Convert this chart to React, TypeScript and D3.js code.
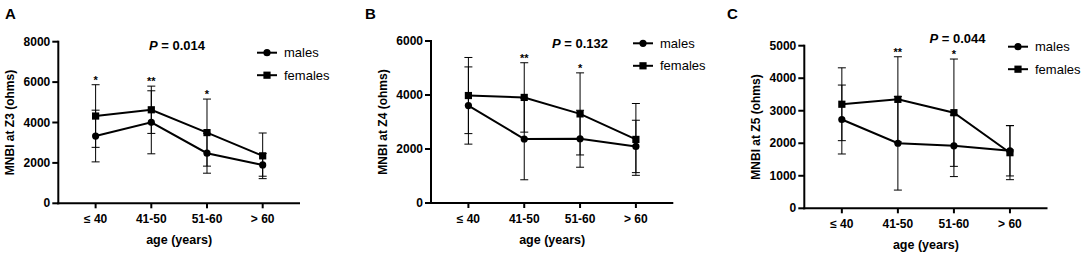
import React from "react";
import * as d3 from "d3";

const categories = ["≤ 40", "41-50", "51-60", "> 60"];

const malesA = [3330, 4010, 2480, 1900];
const malesSdA = [1280, 1560, 990, 560];
const femalesA = [4320, 4630, 3500, 2350];
const femalesSdA = [1550, 1170, 1660, 1130];
const starsA = ["*", "**", "*", ""];
const ticksA = [0, 2000, 4000, 6000, 8000];

const malesB = [3610, 2370, 2380, 2095];
const malesSdB = [1430, 1510, 1055, 970];
const femalesB = [3980, 3910, 3300, 2355];
const femalesSdB = [1410, 1285, 1520, 1330];
const starsB = ["", "**", "*", ""];
const ticksB = [0, 2000, 4000, 6000];

const malesC = [2730, 2000, 1920, 1770];
const malesSdC = [1060, 1440, 945, 775];
const femalesC = [3200, 3350, 2940, 1710];
const femalesSdC = [1120, 1310, 1650, 830];
const starsC = ["", "**", "*", ""];
const ticksC = [0, 1000, 2000, 3000, 4000, 5000];

const FONT = "'Liberation Sans', Arial, Helvetica, sans-serif";

type PanelProps = {
  letter: string;
  letterX: number;
  x0: number;
  x1: number;
  yTop: number;
  yBottom: number;
  ticks: number[];
  yTitle: string;
  pText: string;
  pX: number;
  pY: number;
  legX: number;
  legY: number;
  males: number[];
  malesSd: number[];
  females: number[];
  femalesSd: number[];
  stars: string[];
};

function Panel(p: PanelProps) {
  const yMax = p.ticks[p.ticks.length - 1];
  const x = d3.scalePoint<string>().domain(categories).range([p.x0, p.x1]).padding(0.67);
  const y = d3.scaleLinear().domain([0, yMax]).range([p.yBottom, p.yTop]);
  const line = d3
    .line<number>()
    .x((_, i) => x(categories[i]) as number)
    .y((v) => y(v));
  const capW = 4;
  const series = [
    { vals: p.females, sd: p.femalesSd, shape: "square" },
    { vals: p.males, sd: p.malesSd, shape: "circle" },
  ];
  const yMid = (p.yTop + p.yBottom) / 2;
  return (
    <g fontFamily={FONT}>
      <text x={p.letterX} y={19} fontSize={15} fontWeight="bold">
        {p.letter}
      </text>
      {/* error bars */}
      {series.map((s, si) =>
        s.vals.map((v, i) => {
          const cx = x(categories[i]) as number;
          const hi = y(v + s.sd[i]);
          const lo = y(Math.max(0, v - s.sd[i]));
          return (
            <g key={`e${si}${i}`} stroke="#000" strokeWidth={1}>
              <line x1={cx} x2={cx} y1={hi} y2={lo} />
              <line x1={cx - capW} x2={cx + capW} y1={hi} y2={hi} />
              <line x1={cx - capW} x2={cx + capW} y1={lo} y2={lo} />
            </g>
          );
        })
      )}
      {/* lines */}
      {series.map((s, si) => (
        <path key={`l${si}`} d={line(s.vals) || ""} fill="none" stroke="#000" strokeWidth={2} />
      ))}
      {/* markers */}
      {series.map((s, si) =>
        s.vals.map((v, i) => {
          const cx = x(categories[i]) as number;
          const cy = y(v);
          return s.shape === "circle" ? (
            <circle key={`m${si}${i}`} cx={cx} cy={cy} r={3.6} fill="#000" />
          ) : (
            <rect key={`m${si}${i}`} x={cx - 3.6} y={cy - 3.6} width={7.2} height={7.2} fill="#000" />
          );
        })
      )}
      {/* stars */}
      {p.stars.map((st, i) => {
        if (!st) return null;
        const top = Math.min(y(p.males[i] + p.malesSd[i]), y(p.females[i] + p.femalesSd[i]));
        return (
          <text
            key={`s${i}`}
            x={x(categories[i]) as number}
            y={top - 1}
            textAnchor="middle"
            fontSize={11}
            fontWeight="bold"
          >
            {st}
          </text>
        );
      })}
      {/* y axis */}
      <line x1={p.x0} x2={p.x0} y1={p.yTop - 1} y2={p.yBottom + 1} stroke="#000" strokeWidth={2} />
      {p.ticks.map((t) => (
        <g key={`yt${t}`}>
          <line x1={p.x0 - 6} x2={p.x0} y1={y(t)} y2={y(t)} stroke="#000" strokeWidth={2} />
          <text
            x={p.x0 - 8}
            y={y(t)}
            textAnchor="end"
            dominantBaseline="central"
            fontSize={12}
            fontWeight="bold"
          >
            {t}
          </text>
        </g>
      ))}
      {/* x axis */}
      <line x1={p.x0 - 1} x2={p.x1} y1={p.yBottom} y2={p.yBottom} stroke="#000" strokeWidth={2} />
      {categories.map((c) => (
        <g key={`xt${c}`}>
          <line
            x1={x(c) as number}
            x2={x(c) as number}
            y1={p.yBottom}
            y2={p.yBottom + 5}
            stroke="#000"
            strokeWidth={2}
          />
          <text
            x={x(c) as number}
            y={p.yBottom + 15.5}
            textAnchor="middle"
            dominantBaseline="central"
            fontSize={12}
            fontWeight="bold"
          >
            {c}
          </text>
        </g>
      ))}
      <text
        x={(p.x0 + p.x1) / 2}
        y={p.yBottom + 36.5}
        textAnchor="middle"
        dominantBaseline="central"
        fontSize={12.5}
        fontWeight="bold"
      >
        age (years)
      </text>
      <text
        transform={`translate(${p.x0 - 48},${yMid}) rotate(-90)`}
        textAnchor="middle"
        dominantBaseline="central"
        fontSize={12}
        fontWeight="bold"
      >
        {p.yTitle}
      </text>
      {/* P value */}
      <text x={p.pX} y={p.pY} textAnchor="middle" dominantBaseline="central" fontSize={13} fontWeight="bold">
        <tspan fontStyle="italic">P</tspan>
        {" = " + p.pText}
      </text>
      {/* legend */}
      {[
        { label: "males", shape: "circle" },
        { label: "females", shape: "square" },
      ].map((l, i) => {
        const ly = p.legY + i * 22.5;
        const cx = p.legX + 10;
        return (
          <g key={`lg${i}`}>
            <line x1={p.legX} x2={p.legX + 20} y1={ly} y2={ly} stroke="#000" strokeWidth={2} />
            {l.shape === "circle" ? (
              <circle cx={cx} cy={ly} r={3.6} fill="#000" />
            ) : (
              <rect x={cx - 3.6} y={ly - 3.6} width={7.2} height={7.2} fill="#000" />
            )}
            <text x={p.legX + 27} y={ly} dominantBaseline="central" fontSize={13}>
              {l.label}
            </text>
          </g>
        );
      })}
    </g>
  );
}

export default function App() {
  return (
    <svg
      width={1084}
      height={254}
      style={{ position: "absolute", left: 0, top: 0, background: "#fff" }}
    >
      <rect width={1084} height={254} fill="#fff" />
      <Panel
        letter="A"
        letterX={5}
        x0={58.3}
        x1={300}
        yTop={41.7}
        yBottom={203.3}
        ticks={ticksA}
        yTitle="MNBI at Z3 (ohms)"
        pText="0.014"
        pX={177}
        pY={45}
        legX={257}
        legY={52.7}
        males={malesA}
        malesSd={malesSdA}
        females={femalesA}
        femalesSd={femalesSdA}
        stars={starsA}
      />
      <Panel
        letter="B"
        letterX={365}
        x0={431}
        x1={673.3}
        yTop={41}
        yBottom={203}
        ticks={ticksB}
        yTitle="MNBI at Z4 (ohms)"
        pText="0.132"
        pX={580}
        pY={43.3}
        legX={633}
        legY={43.3}
        males={malesB}
        malesSd={malesSdB}
        females={femalesB}
        femalesSd={femalesSdB}
        stars={starsB}
      />
      <Panel
        letter="C"
        letterX={727}
        x0={804.3}
        x1={1047.5}
        yTop={45.7}
        yBottom={208.3}
        ticks={ticksC}
        yTitle="MNBI at Z5 (ohms)"
        pText="0.044"
        pX={957.5}
        pY={38.3}
        legX={1008}
        legY={46.7}
        males={malesC}
        malesSd={malesSdC}
        females={femalesC}
        femalesSd={femalesSdC}
        stars={starsC}
      />
    </svg>
  );
}
